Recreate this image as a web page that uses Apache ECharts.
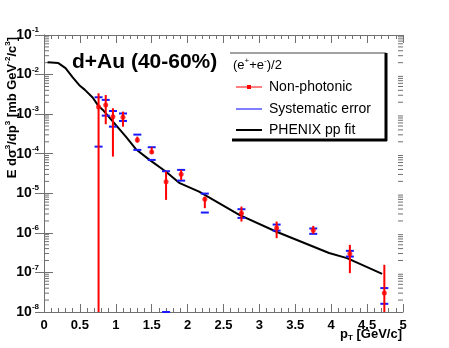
<!DOCTYPE html>
<html>
<head>
<meta charset="utf-8">
<script src="https://cdn.jsdelivr.net/npm/echarts@6/dist/echarts.min.js"></script>
<style>
  html, body { margin: 0; padding: 0; background: #fff; }
  #chart { width: 449px; height: 348px; }
</style>
</head>
<body>
<div id="chart"></div>
<script>
// axis ranges and tick labels
const xMin = 0, xMax = 5, yMin = 1e-8, yMax = 1e-1;
const xTicks = [0, 0.5, 1, 1.5, 2, 2.5, 3, 3.5, 4, 4.5, 5];
const yExponents = [-8, -7, -6, -5, -4, -3, -2, -1];

// PHENIX pp fit
const fitX = [0.05, 0.2, 0.3, 0.4, 0.5, 0.57, 0.68, 0.76, 0.82, 0.96, 1.14, 1.28, 1.47, 1.7, 1.89, 2.16, 2.72, 3.23, 3.97, 4.22, 4.71];
const fitY = [2.05e-2, 1.95e-2, 1.45e-2, 8.5e-3, 5.2e-3, 4.1e-3, 2.6e-3, 1.6e-3, 1.28e-3, 6.5e-4, 2.7e-4, 1.3e-4, 7.0e-5, 3.5e-5, 1.8e-5, 1.1e-5, 2.85e-6, 1.08e-6, 3.1e-7, 2.3e-7, 9.2e-8];

// non-photonic electrons, d+Au 40-60%
const ptX = [0.76, 0.86, 0.96, 1.1, 1.3, 1.5, 1.7, 1.91, 2.24, 2.75, 3.24, 3.75, 4.26, 4.74];
const ptY = [1.52e-3, 1.71e-3, 8.65e-4, 8.35e-4, 2.23e-4, 1.11e-4, 1.97e-5, 3.03e-5, 7.1e-6, 3.14e-6, 1.32e-6, 1.17e-6, 2.95e-7, 3.0e-8];
const statHi = [3.37e-3, 3.05e-3, 1.41e-3, 1.16e-3, 2.7e-4, 1.46e-4, 3.53e-5, 3.9e-5, 8.26e-6, 4.62e-6, 1.93e-6, 1.5e-6, 4.98e-7, 1.56e-7];
const statLo = [0, 5.56e-4, 8.45e-5, 4.83e-4, 1.91e-4, 9.89e-5, 6.81e-6, 2.18e-5, 4.21e-6, 1.93e-6, 7.35e-7, 9.44e-7, 9.59e-8, 0];
const sysHi = [2.67e-3, 2.29e-3, 1.2e-3, 1.04e-3, 3.04e-4, 1.46e-4, 3.61e-5, 3.9e-5, 9.82e-6, 3.96e-6, 1.62e-6, 1.29e-6, 3.51e-7, 4.02e-8];
const sysLo = [1.51e-4, 9.16e-4, 4.83e-4, 6.73e-4, 1.25e-4, 6.97e-5, 0, 2.09e-5, 3.26e-6, 2.39e-6, 1.14e-6, 9.44e-7, 2.52e-7, 1.61e-8];

const FONT = '"Liberation Sans", Arial, sans-serif';
const AXIS_COLOR = '#707070';

// log minor ticks 2..9 x 10^n
const minorY = [];
yExponents.slice(0, -1).forEach(e => {
    for (let m = 2; m <= 9; m++) minorY.push(m * Math.pow(10, e));
});

const chart = echarts.init(document.getElementById('chart'), null, { renderer: 'canvas' });

const clampY = v => Math.max(v, yMin);

const statRender = (params, api) => {
    const x = api.value(0);
    const p1 = api.coord([x, clampY(api.value(2))]);
    const p2 = api.coord([x, clampY(api.value(1))]);
    return {
        type: 'line',
        shape: { x1: p1[0], y1: p1[1], x2: p2[0], y2: p2[1] },
        style: { stroke: '#ff0000', lineWidth: 2 }
    };
};

const sysRender = (params, api) => {
    const x = api.value(0);
    const hi = api.coord([x, clampY(api.value(2))]);
    const lo = api.coord([x, clampY(api.value(1))]);
    const w = 4;
    return {
        type: 'group',
        children: [
            { type: 'line', shape: { x1: hi[0] - w, y1: hi[1], x2: hi[0] + w, y2: hi[1] }, style: { stroke: '#1a1aff', lineWidth: 2 } },
            { type: 'line', shape: { x1: lo[0] - w, y1: lo[1], x2: lo[0] + w, y2: lo[1] }, style: { stroke: '#1a1aff', lineWidth: 2 } }
        ]
    };
};

const minorRender = (params, api) => {
    const v = api.value(0);
    const l = api.coord([xMin, v]);
    const r = api.coord([xMax, v]);
    return {
        type: 'group',
        children: [
            { type: 'line', shape: { x1: l[0], y1: l[1], x2: l[0] + 5, y2: l[1] }, style: { stroke: AXIS_COLOR, lineWidth: 1 } },
            { type: 'line', shape: { x1: r[0], y1: r[1], x2: r[0] - 5, y2: r[1] }, style: { stroke: AXIS_COLOR, lineWidth: 1 } }
        ]
    };
};

const xAxisBase = {
    type: 'value',
    min: xMin,
    max: xMax,
    interval: 0.5,
    axisLine: { show: true, lineStyle: { color: AXIS_COLOR, width: 1 } },
    axisTick: { show: true, inside: true, length: 8, lineStyle: { color: AXIS_COLOR } },
    minorTick: { show: true, splitNumber: 5, length: 4, lineStyle: { color: AXIS_COLOR } },
    splitLine: { show: false }
};

const yAxisBase = {
    type: 'log',
    logBase: 10,
    min: yMin,
    max: yMax,
    splitNumber: 7,
    axisLine: { show: true, lineStyle: { color: AXIS_COLOR, width: 1 } },
    axisTick: { show: true, inside: true, length: 9, lineStyle: { color: AXIS_COLOR } },
    minorTick: { show: false },
    splitLine: { show: false }
};

const supRich = {
    b: { fontFamily: FONT, fontSize: 14, fontWeight: 'bold', color: '#000' },
    s: { fontFamily: FONT, fontSize: 8, fontWeight: 'bold', color: '#000', padding: [0, 0, 10, 0] }
};

chart.setOption({
    backgroundColor: '#fff',
    animation: false,
    grid: { left: 44, right: 46, top: 35, bottom: 36 },
    xAxis: [
        Object.assign({}, xAxisBase, {
            position: 'bottom',
            axisLabel: {
                margin: 7,
                fontFamily: FONT,
                fontSize: 13,
                fontWeight: 'bold',
                color: '#000',
                formatter: v => (xTicks.indexOf(v) > -1 ? String(v) : '')
            }
        }),
        Object.assign({}, xAxisBase, { position: 'top', axisLabel: { show: false } })
    ],
    yAxis: [
        Object.assign({}, yAxisBase, {
            position: 'left',
            axisLabel: {
                margin: 5,
                formatter: v => {
                    const e = Math.round(Math.log10(v));
                    return yExponents.indexOf(e) > -1 ? '{b|10}{s|' + e + '}' : '';
                },
                rich: supRich
            }
        }),
        Object.assign({}, yAxisBase, { position: 'right', axisLabel: { show: false } })
    ],
    series: [
        {
            type: 'custom',
            renderItem: minorRender,
            data: minorY.map(v => [v]),
            encode: { y: 0 },
            silent: true,
            z: 1
        },
        {
            name: 'PHENIX pp fit',
            type: 'line',
            data: fitX.map((x, i) => [x, fitY[i]]),
            showSymbol: false,
            lineStyle: { color: '#000', width: 2 },
            z: 2
        },
        {
            name: 'Systematic error',
            type: 'custom',
            renderItem: sysRender,
            data: ptX.map((x, i) => [x, sysLo[i], sysHi[i]]),
            encode: { x: 0, y: [1, 2] },
            z: 3
        },
        {
            name: 'stat',
            type: 'custom',
            renderItem: statRender,
            data: ptX.map((x, i) => [x, statLo[i], statHi[i]]),
            encode: { x: 0, y: [1, 2] },
            z: 4
        },
        {
            name: 'Non-photonic',
            type: 'scatter',
            data: ptX.map((x, i) => [x, ptY[i]]),
            symbol: 'circle',
            symbolSize: 5,
            itemStyle: { color: '#ff0000' },
            z: 5
        }
    ],
    graphic: [
        {
            type: 'text',
            x: 72, y: 62,
            style: {
                text: 'd+Au (40-60%)',
                font: 'bold 21px ' + FONT,
                fill: '#000',
                verticalAlign: 'middle'
            }
        },
        {
            type: 'text',
            x: 12, y: 37,
            rotation: Math.PI / 2,
            style: {
                text: 'E d\u03c3{s|3}/dp{s|3} [mb GeV{s|-2}/c{s|3}]',
                align: 'right',
                verticalAlign: 'middle',
                rich: {
                    s: { fontFamily: FONT, fontSize: 8, fontWeight: 'bold', fill: '#000', padding: [0, 0, 9, 0] }
                },
                font: 'bold 13px ' + FONT,
                fill: '#000'
            }
        },
        {
            type: 'text',
            x: 402, y: 334,
            style: {
                text: 'p{t|T} [GeV/c]',
                align: 'right',
                verticalAlign: 'middle',
                font: 'bold 13px ' + FONT,
                fill: '#000',
                rich: {
                    t: { fontFamily: FONT, fontSize: 8, fontWeight: 'bold', fill: '#000', padding: [8, 0, 0, 0] }
                }
            }
        },
        // legend box
        { type: 'line', shape: { x1: 230, y1: 53, x2: 386, y2: 53 }, style: { stroke: '#444', lineWidth: 1 } },
        { type: 'line', shape: { x1: 386, y1: 53, x2: 386, y2: 141 }, style: { stroke: '#000', lineWidth: 3 } },
        { type: 'line', shape: { x1: 232, y1: 140, x2: 387, y2: 140 }, style: { stroke: '#000', lineWidth: 3 } },
        {
            type: 'text',
            x: 233, y: 65,
            style: {
                text: '(e{s|+}+e{s|-})/2',
                font: '13px ' + FONT,
                fill: '#000',
                verticalAlign: 'middle',
                rich: { s: { fontFamily: FONT, fontSize: 8, fill: '#000', padding: [0, 0, 8, 0] } }
            }
        },
        { type: 'line', shape: { x1: 236, y1: 87, x2: 262, y2: 87 }, style: { stroke: '#ff0000', lineWidth: 1 } },
        { type: 'rect', shape: { x: 247, y: 85, width: 4, height: 4 }, style: { fill: '#ff0000' } },
        { type: 'text', x: 269, y: 87, style: { text: 'Non-photonic', font: '14px ' + FONT, fill: '#000', verticalAlign: 'middle' } },
        { type: 'line', shape: { x1: 236, y1: 109, x2: 262, y2: 109 }, style: { stroke: '#7f7fff', lineWidth: 2 } },
        { type: 'text', x: 269, y: 109, style: { text: 'Systematic error', font: '14px ' + FONT, fill: '#000', verticalAlign: 'middle' } },
        { type: 'line', shape: { x1: 236, y1: 130, x2: 262, y2: 130 }, style: { stroke: '#000', lineWidth: 2 } },
        { type: 'text', x: 269, y: 130, style: { text: 'PHENIX pp fit', font: '14px ' + FONT, fill: '#000', verticalAlign: 'middle' } }
    ]
});
</script>
</body>
</html>
